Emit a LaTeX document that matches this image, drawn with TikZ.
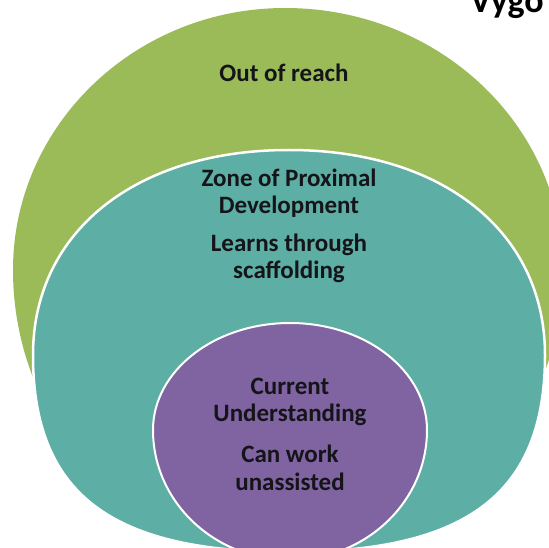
\documentclass[tikz,border=0pt]{standalone}
\usepackage{fontspec}
\setmainfont{Carlito}
\definecolor{outergreen}{RGB}{155,187,89}
\definecolor{zpdteal}{RGB}{93,174,164}
\definecolor{curpurple}{RGB}{128,100,162}
\definecolor{txt}{RGB}{20,20,25}
\begin{document}
\begin{tikzpicture}[x=1pt,y=1pt,
  lbl/.style={font=\fontsize{25}{28}\selectfont\bfseries, text=txt, anchor=base, inner sep=0pt},
  zone/.style={draw=white, line width=2.5pt}]
\useasboundingbox (0,0) rectangle (549,547);
\clip (0,0) rectangle (549,547);
% outer zone: out of reach
\fill[outergreen] (13,277) .. controls (13,421.6) and (134.9,539) .. (285,539)
  .. controls (438.5,539) and (563,421.6) .. (563,277)
  .. controls (563,119.7) and (438.5,-8) .. (285,-8)
  .. controls (134.9,-8) and (13,119.7) .. (13,277) -- cycle;
% zone of proximal development
\filldraw[zone, fill=zpdteal] (33,192) .. controls (33,315) and (135.4,397) .. (289,397)
  .. controls (442.6,397) and (545,315) .. (545,192)
  .. controls (545,54.1) and (468.2,-5) .. (289,-5)
  .. controls (109.8,-5) and (33,54.1) .. (33,192) -- cycle;
% current understanding
\filldraw[zone, line width=2pt, fill=curpurple] (153,117) .. controls (153,176.1) and (214.4,224) .. (290,224)
  .. controls (365.6,224) and (427,176.1) .. (427,117)
  .. controls (427,45.2) and (365.6,-13) .. (290,-13)
  .. controls (214.4,-13) and (153,45.2) .. (153,117) -- cycle;
% labels
\node[lbl] (reach) at (284,465) {Out of reach};
\node[lbl] (zpd1) at (289,360) {Zone of Proximal};
\node[lbl] (zpd2) at (289,333.5) {Development};
\node[lbl] (scaf1) at (289,295) {Learns through};
\node[lbl] (scaf2) at (289,269) {scaffolding};
\node[lbl] (cur1) at (290,153) {Current};
\node[lbl] (cur2) at (290,125.3) {Understanding};
\node[lbl] (alone1) at (290,85) {Can work};
\node[lbl] (alone2) at (290,57) {unassisted};
\node[font=\fontsize{36}{40}\selectfont\bfseries, text=black, anchor=base west, inner sep=0pt] (title) at (470,534) {Vygo};
\end{tikzpicture}
\end{document}
